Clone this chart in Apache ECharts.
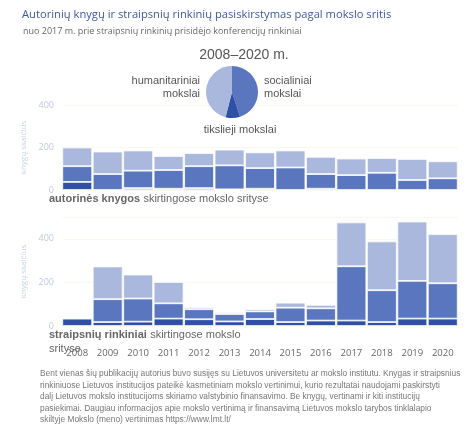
<!DOCTYPE html>
<html>
<head>
<meta charset="utf-8">
<script src="https://cdn.jsdelivr.net/npm/echarts@6/dist/echarts.min.js"></script>
<style>
  html, body { margin: 0; padding: 0; background: #fff; }
  #chart { width: 474px; height: 428px; }
</style>
</head>
<body>
<div id="chart"></div>
<script>
// years on both bar charts
const years = ['2008', '2009', '2010', '2011', '2012', '2013', '2014', '2015', '2016', '2017', '2018', '2019', '2020'];

// autorinės knygos (stacked parts)
const booksExact = [38, 0, 9, 6, 9, 3, 6, 0, 6, 0, 0, 0, 0];
const booksSocial = [74, 75, 82, 88, 103, 113, 97, 106, 69, 70, 81, 47, 55];
const booksHuman = [88, 106, 95, 66, 62, 74, 74, 80, 81, 78, 69, 99, 80];

// straipsnių rinkiniai (stacked parts)
const collExact = [34, 18, 20, 34, 31, 21, 32, 18, 25, 25, 18, 34, 34];
const collSocial = [0, 105, 106, 70, 46, 34, 35, 66, 56, 249, 146, 173, 162];
const collHuman = [4, 150, 110, 98, 9, 8, 10, 23, 16, 201, 224, 272, 225];

// pie shares 2008–2020
const pieNames = ['socialiniai mokslai', 'tikslieji mokslai', 'humanitariniai mokslai'];
const pieValues = [45, 9, 46];

const colors = { exact: '#2f4fa8', social: '#5a76bf', human: '#aab8dd' };
const font = 'Liberation Sans';

const chart = echarts.init(document.getElementById('chart'));

function barSeries(name, data, color, idx) {
    return {
        type: 'bar', name: name, data: data, stack: 's' + idx,
        xAxisIndex: idx, yAxisIndex: idx,
        barCategoryGap: '2%',
        itemStyle: { color: color, borderColor: '#fff', borderWidth: 0.8 },
        silent: true
    };
}

function yAxis(idx, max) {
    return {
        gridIndex: idx, min: 0, max: max, interval: 200,
        name: 'knygų skaičius', nameLocation: 'middle', nameGap: 26, nameRotate: 90,
        nameTextStyle: { color: '#c8d0e4', fontSize: 8 },
        axisLabel: {
            color: '#c0c8dc', fontSize: 9,
            formatter: v => (v % 200 === 0 && v <= 400) ? v : ''
        },
        axisLine: { show: false }, axisTick: { show: false },
        splitLine: { lineStyle: { color: '#f2f3dc', type: 'dotted' } }
    };
}

// pie labels placed by anchor point
function label(text, x, y, align) {
    return { type: 'text', z: 20,
             style: { text: text, x: x, y: y, fill: '#555', fontSize: 11, fontFamily: font,
                      lineHeight: 13, align: align, verticalAlign: 'top' } };
}

chart.setOption({
    animation: false,
    textStyle: { fontFamily: 'Open Sans, sans-serif' },
    title: [
        { text: 'Autorinių knygų ir straipsnių rinkinių pasiskirstymas pagal mokslo sritis',
          left: 17, top: 4, textStyle: { color: '#3d5a9a', fontSize: 11.2, fontWeight: 'normal' } },
        { text: 'nuo 2017 m. prie straipsnių rinkinių prisidėjo konferencijų rinkiniai',
          left: 18, top: 22, textStyle: { color: '#666', fontSize: 9, fontWeight: 'normal' } },
        { text: '2008–2020 m.', left: 239, textAlign: 'center', top: 43,
          textStyle: { color: '#555', fontSize: 14, fontWeight: 'normal', fontFamily: font } }
    ],
    grid: [
        { left: 62, right: 16, top: 105, height: 85 },
        { left: 62, right: 16, top: 217, height: 109 }
    ],
    xAxis: [
        { type: 'category', gridIndex: 0, data: years, axisLabel: { show: false },
          axisLine: { show: false }, axisTick: { show: false } },
        { type: 'category', gridIndex: 1, data: years,
          axisLabel: { color: '#666', fontSize: 9.5, margin: 22 },
          axisLine: { show: false }, axisTick: { show: false } }
    ],
    yAxis: [yAxis(0, 400), yAxis(1, 500)],
    graphic: [
        { type: 'text', left: 49, top: 193,
          style: { rich: { b: { fontWeight: 'bold', fontSize: 11, fill: '#666', fontFamily: font },
                           n: { fontSize: 11, fill: '#666', fontFamily: font } },
                   text: '{b|autorinės knygos} {n|skirtingose mokslo srityse}' } },
        { type: 'text', left: 49, top: 329,
          style: { rich: { b: { fontWeight: 'bold', fontSize: 11, fill: '#666', fontFamily: font, lineHeight: 14 },
                           n: { fontSize: 11, fill: '#666', fontFamily: font, lineHeight: 14 } },
                   text: '{b|straipsnių rinkiniai} {n|skirtingose mokslo}\n{n|srityse}' } },
        label('humanitariniai\nmokslai', 200, 74, 'right'),
        label('socialiniai\nmokslai', 264, 74, 'left'),
        label('tikslieji mokslai', 240, 123, 'center'),
        { type: 'text', left: 40, top: 368,
          style: { fill: '#777', fontSize: 8.4, lineHeight: 11.5,
                   text: 'Bent vienas šių publikacijų autorius buvo susijęs su Lietuvos universitetu ar mokslo institutu. Knygas ir straipsnius\n' +
                         'rinkiniuose Lietuvos institucijos pateikė kasmetiniam mokslo vertinimui, kurio rezultatai naudojami paskirstyti\n' +
                         'dalį Lietuvos mokslo institucijoms skiriamo valstybinio finansavimo. Be knygų, vertinami ir kiti institucijų\n' +
                         'pasiekimai. Daugiau informacijos apie mokslo vertinimą ir finansavimą Lietuvos mokslo tarybos tinklalapio\n' +
                         'skiltyje Mokslo (meno) vertinimas https://www.lmt.lt/' } }
    ],
    series: [
        barSeries('tikslieji', booksExact, colors.exact, 0),
        barSeries('socialiniai', booksSocial, colors.social, 0),
        barSeries('humanitariniai', booksHuman, colors.human, 0),
        barSeries('tikslieji', collExact, colors.exact, 1),
        barSeries('socialiniai', collSocial, colors.social, 1),
        barSeries('humanitariniai', collHuman, colors.human, 1),
        {
            type: 'pie', center: [232, 92], radius: 26, startAngle: 90, clockwise: true,
            silent: true, z: 10,
            data: pieNames.map((n, i) => ({ name: n, value: pieValues[i] })),
            color: [colors.social, colors.exact, colors.human],
            label: { show: false }, labelLine: { show: false }
        }
    ]
});
</script>
</body>
</html>
